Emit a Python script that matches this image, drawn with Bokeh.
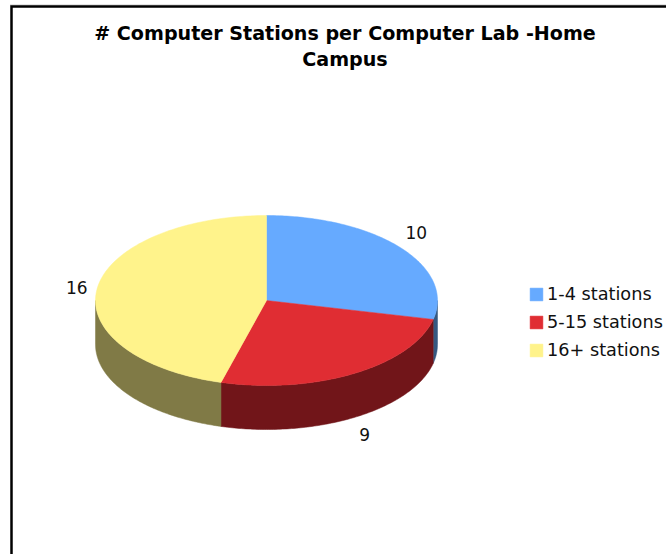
import math
from bokeh.embed import file_html
from bokeh.resources import INLINE
from bokeh.plotting import figure
from bokeh.models import Range1d, Legend, LegendItem
from bokeh.core.properties import value

title_lines = ["# Computer Stations per Computer Lab -Home", "Campus"]
categories = ["1-4 stations", "5-15 stations", "16+ stations"]
values = [10, 9, 16]
top_colors = ["#66AAFF", "#E02D33", "#FFF38B"]
side_colors = ["#355880", "#711519", "#807A46"]

W, H = 666, 554
CX, CY, RX, RY, DEPTH = 266, 300, 171, 85, 44
FONT = "DejaVu Sans"

p = figure(width=W, height=H, output_backend="svg", toolbar_location=None,
           x_range=Range1d(0, W), y_range=Range1d(H, 0),
           x_axis_location=None, y_axis_location=None,
           min_border=0, outline_line_color=None)
p.grid.visible = False
p.background_fill_color = "white"
p.border_fill_color = "white"

# Page frame: only top and left edges are visible in the picture
p.line([9.5, W], [4.5, 4.5], line_color="#c8c8c8", line_width=1)
p.line([11, 11, W], [H, 6, 6], line_color="black", line_width=2.5, line_join="miter")

def arc(a0, a1, dy=0, n=120):
    pts = [a0 + (a1 - a0) * i / n for i in range(n + 1)]
    return ([CX + RX * math.sin(t) for t in pts],
            [CY - RY * math.cos(t) + dy for t in pts])

total = sum(values)
angles = [0]
for v in values:
    angles.append(angles[-1] + v / total * 2 * math.pi)

# Side walls, only the front half of the rim shows
for i in range(len(values)):
    a0 = max(angles[i], math.pi / 2)
    a1 = min(angles[i + 1], 3 * math.pi / 2)
    if a1 <= a0:
        continue
    tx, ty = arc(a0, a1)
    bx, by = arc(a0, a1, DEPTH)
    p.patch(tx + bx[::-1], ty + by[::-1], fill_color=side_colors[i], line_color=side_colors[i], line_width=0.5)

# Top faces
tops = []
for i in range(len(values)):
    ax, ay = arc(angles[i], angles[i + 1])
    r = p.patch([CX] + ax, [CY] + ay, fill_color=top_colors[i], line_color=top_colors[i], line_width=0.5)
    tops.append(r)

# Value labels sit just outside the rim at each slice's middle
label_dy = [-9, 8, 0]
for i, v in enumerate(values):
    mid = (angles[i] + angles[i + 1]) / 2
    k = 1.12
    lx = CX + RX * k * math.sin(mid)
    ly = CY - RY * k * math.cos(mid) + label_dy[i]
    if math.cos(mid) < 0 and abs(math.sin(mid)) < 0.7:
        ly += DEPTH
    p.text([lx], [ly], text=[str(v)], text_font=value(FONT), text_font_size="17px",
           text_color="#111111", text_align="center", text_baseline="middle")

for i, line in enumerate(title_lines):
    p.text([344.5], [33 + 26 * i], text=[line], text_font=value(FONT), text_font_size="19.1px",
           text_font_style="bold", text_color="black", text_align="center", text_baseline="middle")

legend = Legend(items=[LegendItem(label=c, renderers=[r]) for c, r in zip(categories, tops)],
                location=(528, H - 360), orientation="vertical",
                glyph_width=16, glyph_height=16, label_width=100, label_height=14,
                label_standoff=3, spacing=8, padding=0, margin=0,
                border_line_color=None, background_fill_alpha=0,
                label_text_font=FONT, label_text_font_size="17.7px", label_text_color="#111111")
p.add_layout(legend, "center")

open("out.html", "w").write(file_html(p, INLINE))
